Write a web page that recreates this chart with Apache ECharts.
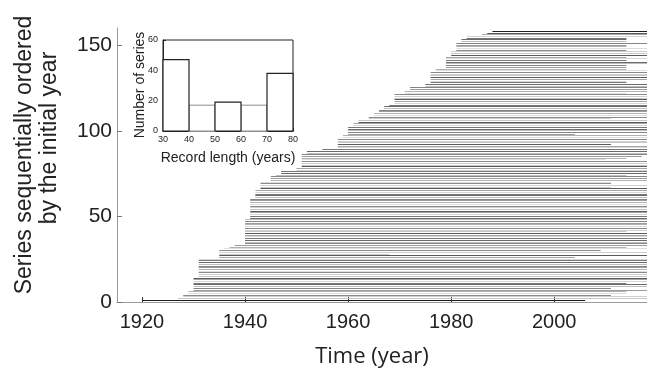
<!DOCTYPE html>
<html><head><meta charset="utf-8">
<script src="https://cdn.jsdelivr.net/npm/echarts@6/dist/echarts.min.js"></script>
<style>html,body{margin:0;padding:0;background:#fff}#c{width:647px;height:372px}</style>
</head><body><div id="c"></div>
<script>
// Series index (ordered by initial year), start and end years of each record
const seriesIndex = Array.from({length:158},(_,i)=>i+1);
const startYears = [
 1920,1927,1928,1928,1929,1929,1930,1930,1930,1930,
 1930,1930,1930,1930,1931,1931,1931,1931,1931,1931,
 1931,1931,1931,1931,1931,1935,1935,1935,1935,1935,
 1936,1937,1938,1940,1940,1940,1940,1940,1940,1940,
 1940,1940,1940,1940,1940,1940,1940,1940,1941,1941,
 1941,1941,1941,1941,1941,1941,1941,1941,1941,1941,
 1942,1942,1942,1942,1942,1943,1943,1943,1943,1943,
 1945,1945,1945,1946,1947,1947,1950,1950,1951,1951,
 1951,1951,1951,1951,1951,1951,1952,1952,1955,1958,
 1958,1958,1958,1958,1958,1959,1959,1960,1960,1960,
 1960,1960,1961,1961,1962,1962,1964,1964,1965,1965,
 1966,1966,1967,1967,1968,1969,1969,1969,1969,1969,
 1969,1971,1971,1972,1972,1975,1975,1976,1976,1976,
 1976,1976,1976,1976,1977,1977,1979,1979,1979,1979,
 1979,1979,1979,1980,1980,1980,1981,1981,1981,1981,
 1981,1982,1982,1983,1983,1986,1987,1988
];
const endYears = [
 2006,2018,2018,2011,2014,2014,2018,2011,2018,2018,
 2014,2018,2018,2018,2018,2018,2018,2018,2018,2018,
 2018,2018,2018,2018,2018,2004,2018,1968,2018,2009,
 2018,2014,2018,2018,2018,2018,2018,2018,2018,2018,
 2014,2018,2018,2018,2018,2018,2018,2018,2018,2018,
 2018,2018,2018,2018,2018,2018,2018,2018,2018,2018,
 2018,2018,2018,2018,2018,2018,2011,2018,2011,2011,
 2018,2018,2018,2014,2018,2018,2018,2018,2018,2018,
 2018,2018,2010,2014,2017,2018,2018,2018,2018,2018,
 2018,2011,2018,2018,2018,2018,2018,2004,2018,2018,
 2018,2018,2018,2018,2018,2018,2011,2018,2018,2018,
 2018,2018,2018,2018,2018,2018,2018,2018,2018,2018,
 2018,2014,2018,2018,2018,2018,2018,2014,2014,2018,
 2018,2018,2018,2018,2018,2014,2014,2014,2018,2018,
 2014,2018,2014,2018,2018,2018,2014,2018,2014,2014,
 2018,2014,2014,2014,2018,2018,2018,2018
];
const yearTicks = [1920,1940,1960,1980,2000];
const indexTicks = [0,50,100,150];
// Inset histogram of record length
const binLow = [30,40,50,60,70];
const binHigh = [40,50,60,70,80];
const binCount = [47,17,19,17,38];

const tones = ['#5a5a5a','#bdbdbd','#8a8a8a','#d6d6d6','#9c9c9c','#c6c6c6','#6a6a6a','#dedede','#a6a6a6','#858585','#cfcfcf','#777777','#b2b2b2'];
function tone(i){ if(i===0||i===157) return '#1e1e1e'; return tones[(i*5)%tones.length]; }

const lineData = seriesIndex.map((n,i)=>[n,startYears[i],endYears[i]]);
const histData = binLow.map((lo,i)=>[lo,binHigh[i],binCount[i]]);
const histOrder = [1,3,0,2,4];
const histGray = {1:true,3:true};

const chart = echarts.init(document.getElementById('c'), null, {renderer:'canvas'});
const lab = {fontFamily:'Liberation Sans, Arial, sans-serif', color:'#222'};
chart.setOption({
  animation:false,
  grid:[
    {left:117, right:0, top:28, bottom:70},
    {left:163, right:354, top:40, bottom:241, show:true, borderColor:'#222', borderWidth:1, backgroundColor:'#fff', z:5}
  ],
  xAxis:[
    {gridIndex:0, type:'value', min:1915.15, max:2018,
     axisLine:{show:true, lineStyle:{color:'#9a9a9a', width:1}},
     axisTick:{show:true, inside:true, length:5, customValues:yearTicks, lineStyle:{color:'#333'}},
     axisLabel:{customValues:yearTicks, fontSize:20, margin:10, formatter:v=>String(v), ...lab},
     splitLine:{show:false}},
    {gridIndex:1, type:'value', min:30, max:80, interval:10, z:6,
     axisLine:{show:true, lineStyle:{color:'#222', width:1}},
     axisTick:{show:true, inside:true, length:3, lineStyle:{color:'#222'}},
     axisLabel:{fontSize:9, margin:4, ...lab},
     splitLine:{show:false}}
  ],
  yAxis:[
    {gridIndex:0, type:'value', min:0, max:160,
     axisLine:{show:true, lineStyle:{color:'#9a9a9a', width:1}},
     axisTick:{show:true, inside:true, length:5, customValues:indexTicks, lineStyle:{color:'#777'}},
     axisLabel:{customValues:indexTicks, fontSize:21, margin:5, formatter:v=>String(v), ...lab},
     splitLine:{show:false}},
    {gridIndex:1, type:'value', min:0, max:60, interval:20, z:6,
     axisLine:{show:true, lineStyle:{color:'#222', width:1}},
     axisTick:{show:true, inside:true, length:3, lineStyle:{color:'#222'}},
     axisLabel:{fontSize:9, margin:5, ...lab},
     splitLine:{show:false}}
  ],
  series:[
    {type:'custom', xAxisIndex:0, yAxisIndex:0, data:lineData, clip:true,
     encode:{x:[1,2], y:0},
     renderItem:function(params, api){
       const n = api.value(0), s = api.value(1), e = api.value(2);
       const p1 = api.coord([s,n]), p2 = api.coord([e,n]);
       const cs = params.coordSys;
       const x2 = Math.min(p2[0], cs.x + cs.width);
       const y = Math.round(p1[1] - 0.5) + 0.5;
       return {type:'line', shape:{x1:p1[0], y1:y, x2:x2, y2:y},
               style:{stroke:tone(params.dataIndex), lineWidth:1}};
     }},
    {type:'custom', xAxisIndex:1, yAxisIndex:1, z:7,
     data:histOrder.map(k=>histData[k].concat([k])),
     encode:{x:[0,1], y:2},
     renderItem:function(params, api){
       const lo = api.value(0), hi = api.value(1), h = api.value(2), k = api.value(3);
       const a = api.coord([lo,h]), b = api.coord([hi,0]);
       const gray = histGray[k];
       return {type:'rect', shape:{x:a[0], y:a[1], width:b[0]-a[0], height:b[1]-a[1]},
               style:{fill:'#fff', stroke: gray ? '#b4b4b4' : '#222', lineWidth: gray ? 1.6 : 1.2}};
     }}
  ],
  graphic:[
    {type:'text', x:25, y:155, rotation:Math.PI/2, z:10,
     style:{text:'Series sequentially ordered', font:'23px "Liberation Sans", Arial, sans-serif', fill:'#222', textAlign:'center', textVerticalAlign:'middle'}},
    {type:'text', x:50, y:138, rotation:Math.PI/2, z:10,
     style:{text:'by the initial year', font:'23px "Liberation Sans", Arial, sans-serif', fill:'#222', textAlign:'center', textVerticalAlign:'middle'}},
    {type:'text', x:372, y:357, z:10,
     style:{text:'Time (year)', font:'22px "Open Sans", sans-serif', fill:'#222', textAlign:'center', textVerticalAlign:'middle'}},
    {type:'text', x:228, y:158, z:10,
     style:{text:'Record length (years)', font:'14px "Liberation Sans", Arial, sans-serif', fill:'#222', textAlign:'center', textVerticalAlign:'middle'}},
    {type:'text', x:140, y:85, rotation:Math.PI/2, z:10,
     style:{text:'Number of series', font:'14px "Liberation Sans", Arial, sans-serif', fill:'#222', textAlign:'center', textVerticalAlign:'middle'}}
  ]
});
</script></body></html>
